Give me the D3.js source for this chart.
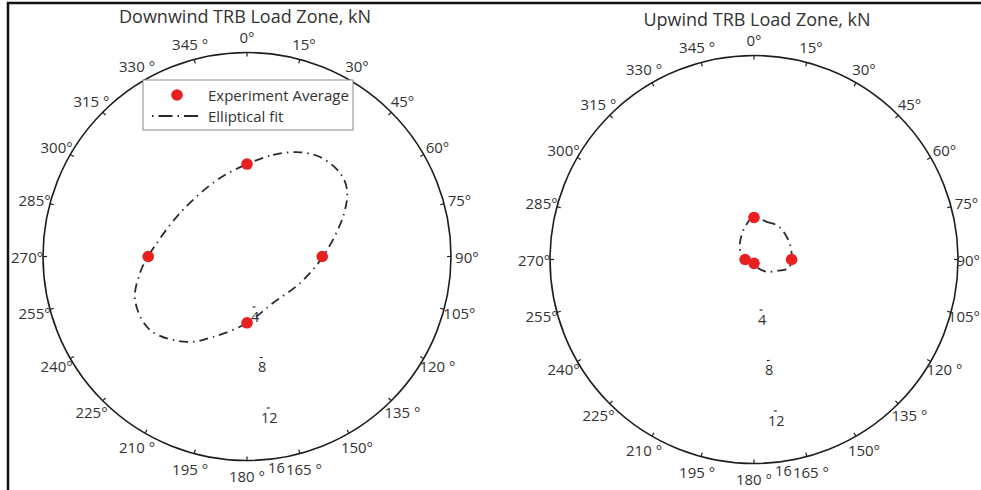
<!DOCTYPE html>
<html>
<head>
<meta charset="utf-8">
<script src="https://cdn.jsdelivr.net/npm/d3@7"></script>
<style>
  html, body { margin: 0; padding: 0; background: #fff; }
  svg { display: block; }
  text { font-family: "Open Sans", "DejaVu Sans", sans-serif; fill: #333; }
</style>
</head>
<body>
<svg id="chart" width="981" height="490"></svg>
<script>
// Compass angles (degrees, clockwise from north) and their labels
const angleTicks = [0, 15, 30, 45, 60, 75, 90, 105, 120, 135, 150, 165,
                    180, 195, 210, 225, 240, 255, 270, 285, 300, 315, 330, 345];
const angleTickLabels = ["0°", "15°", "30°", "45°", "60°", "75°", "90°", "105°",
                         "120 °", "135 °", "150°", "165 °", "180 °", "195 °", "210 °", "225°",
                         "240°", "255°", "270°", "285°", "300°", "315 °", "330 °", "345 °"];

// Radial load ticks, kN
const radialTicks = [4, 8, 12, 16];
const radialTickLabels = ["4", "8", "12", "16"];
const radialMax = 16;

// Downwind TRB: experiment averages
const downwindAngle = [0, 90, 180, 270];
const downwindLoad = [7.25, 5.9, 5.2, 7.75];
// Downwind TRB: elliptical fit outline
const downwindFitAngle = [0, 14.4, 25.6, 36.3, 48.1, 56.4, 67.6, 90, 116.6, 150.8,
                          180, 202.9, 215.1, 232.8, 248.8, 261.2, 270, 303, 338.6];
const downwindFitLoad = [7.25, 8.22, 9.08, 9.68, 9.80, 9.42, 8.14, 5.96, 4.65, 4.18,
                         5.22, 6.85, 8.19, 9.54, 9.42, 8.49, 7.76, 6.26, 6.44];

// Upwind TRB: experiment averages
const upwindAngle = [0, 90, 180, 270];
const upwindLoad = [3.3, 2.95, 0.3, 0.7];
// Upwind TRB: elliptical fit outline
const upwindFitAngle = [359, 18.6, 36, 55.1, 70.8, 90, 104.4, 114.7, 133.8, 153.9,
                        190, 270, 304.2, 327.9, 344.7];
const upwindFitLoad = [3.30, 3.12, 3.24, 3.12, 3.04, 2.95, 2.77, 2.09, 1.38, 0.77,
                       0.30, 0.70, 1.32, 1.96, 2.66];

const W = 981;
const svg = d3.select("#chart");
const toRad = d => d * Math.PI / 180;

// page frame
svg.append("line").attr("x1", 7).attr("x2", W).attr("y1", 3).attr("y2", 3)
  .attr("stroke", "#111").attr("stroke-width", 2.5);
svg.append("line").attr("x1", 8).attr("x2", 8).attr("y1", 2).attr("y2", 490)
  .attr("stroke", "#111").attr("stroke-width", 2.5);

function polarPanel(opts) {
  const g = svg.append("g").attr("transform", `translate(${opts.cx},${opts.cy})`);
  const R = 204;
  const r = d3.scaleLinear().domain([0, radialMax]).range([0, R]);
  const pt = (a, v) => d3.pointRadial(toRad(a), r(v));

  // title
  svg.append("text")
    .attr("x", opts.cx + opts.titleDx).attr("y", opts.cy - 241)
    .attr("text-anchor", "middle").attr("dominant-baseline", "central")
    .attr("font-size", 18).text(opts.title);

  // outer circle
  g.append("circle").attr("r", R).attr("fill", "none")
    .attr("stroke", "#1e1e1e").attr("stroke-width", 1.6);

  // angular ticks and labels
  g.selectAll("line.atick").data(angleTicks).join("line")
    .attr("class", "atick")
    .attr("x1", d => pt(d, radialMax)[0]).attr("y1", d => pt(d, radialMax)[1])
    .attr("x2", d => d3.pointRadial(toRad(d), R - 4)[0])
    .attr("y2", d => d3.pointRadial(toRad(d), R - 4)[1])
    .attr("stroke", "#1e1e1e").attr("stroke-width", 1.2);

  g.selectAll("text.alabel").data(angleTicks).join("text")
    .attr("class", "alabel")
    .attr("x", d => d3.pointRadial(toRad(d), R * 1.078)[0])
    .attr("y", d => d3.pointRadial(toRad(d), R * 1.078)[1])
    .attr("text-anchor", "middle").attr("dominant-baseline", "central")
    .attr("font-size", 15)
    .text((d, i) => angleTickLabels[i])
    .each(function () {
      // keep labels near the page edge inside the page
      const bb = this.getBBox();
      const over = opts.cx + bb.x + bb.width - (W - 1);
      if (over > 0) d3.select(this).attr("x", +d3.select(this).attr("x") - over);
    });

  // radial tick labels, set slightly off the 180° spoke
  const rAngle = 172;
  g.selectAll("line.rtick").data(radialTicks).join("line")
    .attr("class", "rtick")
    .attr("x1", d => pt(rAngle, d)[0] - 1.5).attr("x2", d => pt(rAngle, d)[0] + 1.5)
    .attr("y1", d => pt(rAngle, d)[1]).attr("y2", d => pt(rAngle, d)[1])
    .attr("stroke", "#333").attr("stroke-width", 1.2);
  g.selectAll("text.rlabel").data(radialTicks).join("text")
    .attr("class", "rlabel")
    .attr("x", d => pt(rAngle, d)[0] + 1)
    .attr("y", d => pt(rAngle, d)[1] + 9)
    .attr("text-anchor", "middle").attr("dominant-baseline", "central")
    .attr("font-size", 14.5)
    .text((d, i) => radialTickLabels[i]);

  // elliptical fit
  const fit = opts.fitAngle.map((a, i) => ({ a: a, v: opts.fitLoad[i] }));
  const line = d3.lineRadial()
    .angle(d => toRad(d.a)).radius(d => r(d.v))
    .curve(d3.curveCatmullRomClosed.alpha(0.5));
  g.append("path").attr("d", line(fit)).attr("fill", "none")
    .attr("stroke", "#2b2b2b").attr("stroke-width", 1.8)
    .attr("stroke-dasharray", "9,5,1.5,5");

  // experiment averages
  const pts = opts.angle.map((a, i) => pt(a, opts.load[i]));
  g.selectAll("circle.pt").data(pts).join("circle")
    .attr("class", "pt")
    .attr("cx", d => d[0]).attr("cy", d => d[1]).attr("r", 5.8)
    .attr("fill", "#e8201f");

  return g;
}

polarPanel({
  cx: 247, cy: 256.5, titleDx: -2, title: "Downwind TRB Load Zone, kN",
  angle: downwindAngle, load: downwindLoad,
  fitAngle: downwindFitAngle, fitLoad: downwindFitLoad
});
polarPanel({
  cx: 754, cy: 259.5, titleDx: 3, title: "Upwind TRB Load Zone, kN",
  angle: upwindAngle, load: upwindLoad,
  fitAngle: upwindFitAngle, fitLoad: upwindFitLoad
});

// legend
const lg = svg.append("g");
lg.append("rect").attr("x", 143).attr("y", 80).attr("width", 210).attr("height", 50)
  .attr("fill", "#fff").attr("stroke", "#8a8a8a").attr("stroke-width", 1);
lg.append("circle").attr("cx", 177).attr("cy", 95).attr("r", 5.8).attr("fill", "#e8201f");
lg.append("line").attr("x1", 152).attr("x2", 202).attr("y1", 116).attr("y2", 116)
  .attr("stroke", "#2b2b2b").attr("stroke-width", 1.8)
  .attr("stroke-dasharray", "1.5,5,14,5");
lg.append("text").attr("x", 208).attr("y", 95).attr("dominant-baseline", "central")
  .attr("font-size", 15).text("Experiment Average");
lg.append("text").attr("x", 208).attr("y", 116).attr("dominant-baseline", "central")
  .attr("font-size", 15).text("Elliptical fit");
</script>
</body>
</html>
